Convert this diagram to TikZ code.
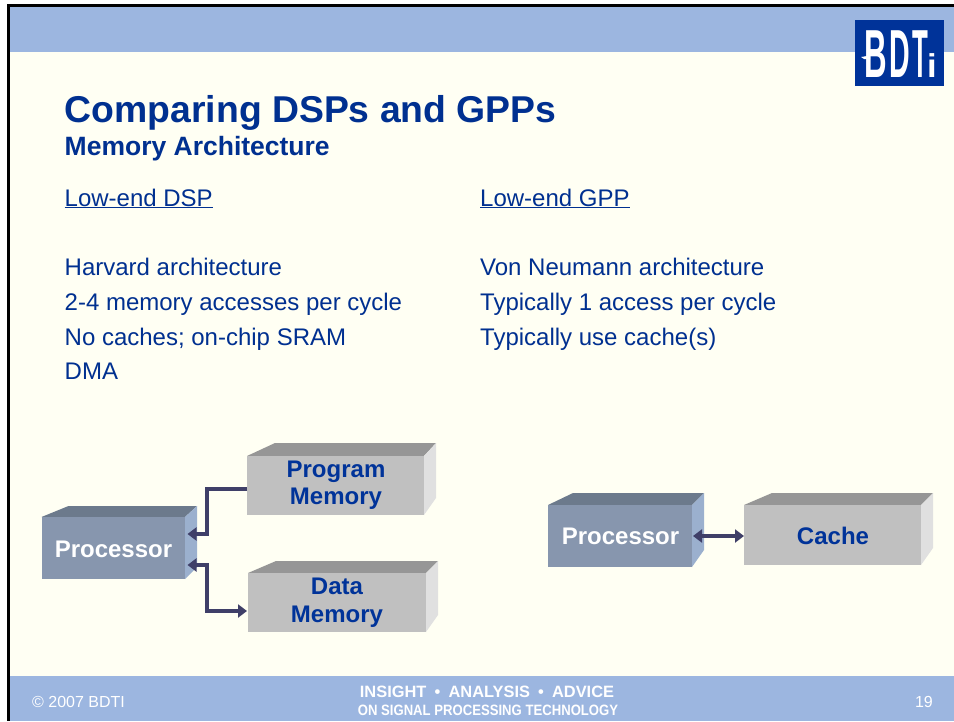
\documentclass[tikz,border=0pt]{standalone}
\usepackage{fontspec}
\setmainfont{Liberation Sans}
\usetikzlibrary{arrows.meta}
\definecolor{paper}{HTML}{FFFFF3}
\definecolor{band}{HTML}{9CB6E0}
\definecolor{navy}{HTML}{003399}
\definecolor{bodyblue}{HTML}{003090}
\definecolor{wire}{HTML}{3F3F68}
\definecolor{procF}{HTML}{8796AE}
\definecolor{procT}{HTML}{6C7A8C}
\definecolor{procS}{HTML}{9BB0CE}
\definecolor{grayF}{HTML}{C0C0C0}
\definecolor{grayT}{HTML}{969696}
\definecolor{grayS}{HTML}{E0E0E0}
\tikzset{
  bodytext/.style={anchor=base west,inner sep=0pt,text=bodyblue,font=\fontsize{24}{24}\selectfont},
  boxlabel/.style={inner sep=0pt,align=center,font=\fontsize{24}{27.5}\selectfont\bfseries},
  wirepath/.style={draw=wire,line width=3.2pt},
  wiretip/.style={-{Triangle[length=9pt,width=13pt]}},
  wirearrow/.style={wirepath,{Triangle[length=9pt,width=13pt]}-{Triangle[length=9pt,width=13pt]}},
  foot/.style={inner sep=0pt,text=white},
  logoletter/.style={anchor=base west,inner sep=0pt,text=white}
}
% name, x1, y1, x2, y2, back-left offset, depth y, side drop, colour prefix
\newcommand{\solidbox}[9]{%
  \fill[#9T] (#2,#3) -- (#2+#6,#3-#7) -- (#4+12,#3-#7) -- (#4,#3) -- cycle;
  \fill[#9S] (#4,#3) -- (#4+12,#3-#7) -- (#4+12,#5-#8) -- (#4,#5) -- cycle;
  \node[fill=#9F,inner sep=0pt,outer sep=0pt,minimum width={(#4-#2)*1pt},minimum height={(#5-#3)*1pt}] (#1) at ({(#2+#4)/2},{(#3+#5)/2}) {};
}
\begin{document}
\begin{tikzpicture}[x=1pt,y=-1pt]
\useasboundingbox (0,0) rectangle (954,721);
\fill[white] (0,0) rectangle (954,721);
\fill[paper] (8,5) rectangle (954,721);
\fill[band] (8,6) rectangle (954,52);
\fill[black] (7,4) rectangle (954,7);
\fill[black] (7,4) rectangle (10,721);
\fill[band] (10,676) rectangle (954,721);

\fill[navy] (855,20) rectangle (944,86);
\node[logoletter] (logoB) at (864,77) {\scalebox{0.46}[1]{\fontsize{68}{68}\selectfont\bfseries B}};
\fill[white] (861,57) -- (870,55.5) -- (870,59) -- (864,59) -- cycle;
\node[logoletter] (logoD) at (889,77) {\scalebox{0.42}[1]{\fontsize{68}{68}\selectfont\bfseries D}};
\node[logoletter] (logoT) at (912,77) {\scalebox{0.38}[1]{\fontsize{68}{68}\selectfont\bfseries T}};
\node[logoletter] (logoI) at (927,77) {\scalebox{1.05}[1]{\fontsize{33}{33}\selectfont\bfseries i}};

\node[anchor=base west,inner sep=0pt,text=bodyblue,font=\fontsize{37.35}{38}\selectfont\bfseries] (title) at (64.5,122) {Comparing DSPs and GPPs};
\node[anchor=base west,inner sep=0pt,text=bodyblue,font=\fontsize{26.5}{27}\selectfont\bfseries] (sub) at (64.5,155) {Memory Architecture};

\node[bodytext] (h1) at (64.5,206) {\underline{Low-end DSP}};
\node[bodytext] (h2) at (480,206) {\underline{Low-end GPP}};
\node[bodytext] (l1) at (64.5,275) {Harvard architecture};
\node[bodytext] (l2) at (64.5,310) {2-4 memory accesses per cycle};
\node[bodytext] (l3) at (64.5,345) {No caches; on-chip SRAM};
\node[bodytext] (l4) at (64.5,379) {DMA};
\node[bodytext] (r1) at (480,275) {Von Neumann architecture};
\node[bodytext] (r2) at (480,310) {Typically 1 access per cycle};
\node[bodytext] (r3) at (480,345) {Typically use cache(s)};

\solidbox{pmf}{247}{456}{424}{515}{28}{13}{17}{gray}
\solidbox{dmf}{248}{573}{426}{632}{28}{12}{17}{gray}
\solidbox{plf}{41.5}{517}{185}{579}{27}{11}{12}{proc}
\solidbox{prf}{548}{505}{692}{567}{25}{12}{17}{proc}
\solidbox{caf}{744}{505}{921}{565}{28}{12}{17}{gray}

\node[boxlabel,text=navy] (pm) at (336,485) {Program\\Memory};
\node[boxlabel,text=navy] (dm) at (337,602.5) {Data\\Memory};
\node[boxlabel,text=white] (pl) at (113.5,549) {Processor};
\node[boxlabel,text=white] (pr) at (620.5,536.5) {Processor};
\node[boxlabel,text=navy] (ca) at (833,536) {Cache};

\coordinate (busL) at (207,0);
\coordinate (pmOut) at ([yshift=-3.5pt]pmf.west);
\coordinate (plIn) at ([xshift=2.5pt,yshift=14pt]plf.east);
\coordinate (plIO) at ([xshift=2.5pt,yshift=-17pt]plf.east);
\coordinate (dmIO) at ([xshift=-1pt,yshift=-8.5pt]dmf.west);
\draw[wirepath,wiretip] (pmOut) -- (busL |- pmOut) -- (busL |- plIn) -- (plIn);
\draw[wirearrow] (plIO) -- (busL |- plIO) -- (busL |- dmIO) -- (dmIO);
\draw[wirearrow] ([xshift=1pt]prf.east) -- (caf.west |- prf.east);

\node[foot,anchor=base west,font=\fontsize{16}{16}\selectfont] (cp) at (32,707) {© 2007 BDTI};
\node[foot,font=\fontsize{16.4}{16}\selectfont\bfseries] (f1) at (487,691.5) {INSIGHT\enspace•\enspace ANALYSIS\enspace•\enspace ADVICE};
\node[foot,font=\fontsize{15}{15}\selectfont\bfseries] (f2) at (488,710.5) {\scalebox{0.875}[1]{ON SIGNAL PROCESSING TECHNOLOGY}};
\node[foot,anchor=base east,font=\fontsize{16}{16}\selectfont] (pg) at (933,707) {19};
\end{tikzpicture}
\end{document}
